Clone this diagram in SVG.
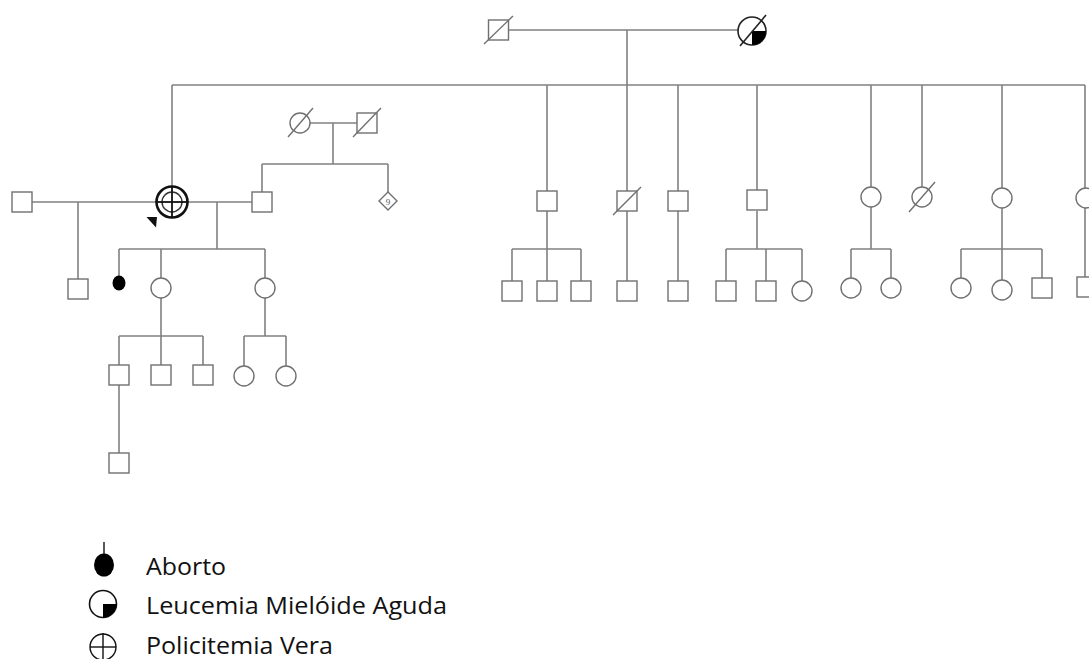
<svg xmlns="http://www.w3.org/2000/svg" width="1089" height="659" viewBox="0 0 1089 659">
  <style>
    .ln { stroke: #808080; stroke-width: 1.6; fill: none; }
    .m { fill: #fff; stroke: #707070; stroke-width: 1.4; }
    .f { fill: #fff; stroke: #707070; stroke-width: 1.4; }
    .dec { stroke: #707070; stroke-width: 1.4; }
    .blk { fill: #000; }
    .lg { font-family: "Open Sans", "Liberation Sans", sans-serif; font-size: 24px; fill: #111; }
  </style>
  <defs>
    <rect id="sq" x="-10" y="-10" width="20" height="20" class="m"/>
    <circle id="ci" r="10" class="f"/>
  </defs>
  <rect width="1089" height="659" fill="#fff"/>

  <!-- connectors -->
  <g id="connectors" class="ln">
    <!-- generation I -->
    <line x1="509" y1="30" x2="738" y2="30"/>
    <line x1="627" y1="30" x2="627" y2="85"/>
    <line x1="172" y1="85" x2="1085" y2="85"/>
    <line x1="172" y1="85" x2="172" y2="187"/>
    <line x1="547" y1="85" x2="547" y2="191"/>
    <line x1="627" y1="85" x2="627" y2="191"/>
    <line x1="678" y1="85" x2="678" y2="191"/>
    <line x1="757" y1="85" x2="757" y2="191"/>
    <line x1="871" y1="85" x2="871" y2="187"/>
    <line x1="922" y1="85" x2="922" y2="187"/>
    <line x1="1002" y1="85" x2="1002" y2="188"/>
    <line x1="1085" y1="85" x2="1085" y2="188"/>
    <!-- proband's marriages -->
    <line x1="32" y1="202" x2="156" y2="202"/>
    <line x1="78" y1="202" x2="78" y2="279"/>
    <line x1="188" y1="202" x2="252" y2="202"/>
    <line x1="217" y1="202" x2="217" y2="249"/>
    <line x1="119" y1="249" x2="265" y2="249"/>
    <line x1="119" y1="249" x2="119" y2="276"/>
    <line x1="161" y1="249" x2="161" y2="278"/>
    <line x1="265" y1="249" x2="265" y2="278"/>
    <!-- husband's parents -->
    <line x1="310" y1="123" x2="357" y2="123"/>
    <line x1="333" y1="123" x2="333" y2="164"/>
    <line x1="262" y1="164" x2="388" y2="164"/>
    <line x1="262" y1="164" x2="262" y2="192"/>
    <line x1="388" y1="164" x2="388" y2="192"/>
    <!-- grandchildren, left branch -->
    <line x1="161" y1="298" x2="161" y2="336"/>
    <line x1="119" y1="336" x2="203" y2="336"/>
    <line x1="119" y1="336" x2="119" y2="365"/>
    <line x1="161" y1="336" x2="161" y2="365"/>
    <line x1="203" y1="336" x2="203" y2="365"/>
    <line x1="265" y1="298" x2="265" y2="336"/>
    <line x1="244" y1="336" x2="286" y2="336"/>
    <line x1="244" y1="336" x2="244" y2="366"/>
    <line x1="286" y1="336" x2="286" y2="366"/>
    <line x1="119" y1="385" x2="119" y2="453"/>
    <!-- right branches -->
    <line x1="547" y1="211" x2="547" y2="281"/>
    <line x1="512" y1="249" x2="581" y2="249"/>
    <line x1="512" y1="249" x2="512" y2="281"/>
    <line x1="581" y1="249" x2="581" y2="281"/>
    <line x1="627" y1="211" x2="627" y2="281"/>
    <line x1="678" y1="211" x2="678" y2="281"/>
    <line x1="757" y1="211" x2="757" y2="249"/>
    <line x1="726" y1="249" x2="802" y2="249"/>
    <line x1="726" y1="249" x2="726" y2="281"/>
    <line x1="766" y1="249" x2="766" y2="281"/>
    <line x1="802" y1="249" x2="802" y2="281"/>
    <line x1="871" y1="207" x2="871" y2="249"/>
    <line x1="851" y1="249" x2="891" y2="249"/>
    <line x1="851" y1="249" x2="851" y2="278"/>
    <line x1="891" y1="249" x2="891" y2="278"/>
    <line x1="1002" y1="208" x2="1002" y2="280"/>
    <line x1="961" y1="249" x2="1042" y2="249"/>
    <line x1="961" y1="249" x2="961" y2="278"/>
    <line x1="1042" y1="249" x2="1042" y2="278"/>
    <line x1="1085" y1="208" x2="1085" y2="277"/>
  </g>

  <!-- generation I -->
  <g id="grandfather">
    <use href="#sq" x="498.5" y="30"/>
    <line x1="484" y1="44" x2="513" y2="16" class="dec"/>
  </g>
  <g id="grandmother">
    <circle cx="752" cy="31" r="14" fill="#fff" stroke="#222" stroke-width="1.6"/>
    <path d="M752,31 H766 A14,14 0 0 1 752,45 Z" class="blk"/>
    <line x1="740" y1="46" x2="766" y2="15" stroke="#222" stroke-width="1.6"/>
  </g>

  <!-- husband's parents -->
  <g id="husband-mother">
    <use href="#ci" x="300" y="123"/>
    <line x1="288" y1="137" x2="313" y2="108" class="dec"/>
  </g>
  <g id="husband-father">
    <use href="#sq" x="367" y="123"/>
    <line x1="353" y1="137" x2="381" y2="108" class="dec"/>
  </g>
  <g id="husband-siblings">
    <path d="M388,192 L397,201 L388,210 L379,201 Z" class="m"/>
    <text x="388" y="204.5" font-family="Liberation Serif, serif" font-size="9" text-anchor="middle" fill="#555">9</text>
  </g>

  <!-- proband and partners -->
  <g id="partner-1"><use href="#sq" x="22" y="202"/></g>
  <g id="proband">
    <circle cx="172" cy="202" r="15.5" fill="#fff" stroke="#111" stroke-width="2.6"/>
    <circle cx="172" cy="202" r="10" fill="none" stroke="#333" stroke-width="1.4"/>
    <line x1="156.5" y1="202" x2="187.5" y2="202" stroke="#111" stroke-width="1.8"/>
    <line x1="172" y1="186.5" x2="172" y2="217.5" stroke="#111" stroke-width="1.8"/>
    <polygon points="146.5,217 157,217 156,227.5" fill="#111"/>
  </g>
  <g id="partner-2"><use href="#sq" x="262" y="202"/></g>

  <!-- proband's children -->
  <g id="son-1"><use href="#sq" x="78" y="289"/></g>
  <g id="abortion"><ellipse cx="119" cy="283" rx="6.5" ry="7.5" class="blk"/></g>
  <g id="daughter-1"><use href="#ci" x="161" y="288"/></g>
  <g id="daughter-2"><use href="#ci" x="265" y="288"/></g>

  <!-- grandchildren, left -->
  <g id="gc-1"><use href="#sq" x="119" y="375"/></g>
  <g id="gc-2"><use href="#sq" x="161" y="375"/></g>
  <g id="gc-3"><use href="#sq" x="203" y="375"/></g>
  <g id="gc-4"><use href="#ci" x="244" y="376"/></g>
  <g id="gc-5"><use href="#ci" x="286" y="376"/></g>
  <g id="ggc-1"><use href="#sq" x="119" y="463"/></g>

  <!-- proband's siblings -->
  <g id="sib-1"><use href="#sq" x="547" y="201"/></g>
  <g id="sib-2">
    <use href="#sq" x="627" y="201"/>
    <line x1="613" y1="215" x2="641" y2="187" class="dec"/>
  </g>
  <g id="sib-3"><use href="#sq" x="678" y="201"/></g>
  <g id="sib-4"><use href="#sq" x="757" y="200"/></g>
  <g id="sib-5"><use href="#ci" x="871" y="197"/></g>
  <g id="sib-6">
    <use href="#ci" x="922" y="197"/>
    <line x1="909" y1="212" x2="935" y2="182" class="dec"/>
  </g>
  <g id="sib-7"><use href="#ci" x="1002" y="198"/></g>
  <g id="sib-8"><use href="#ci" x="1086" y="198"/></g>

  <!-- nieces and nephews -->
  <g id="nn-1"><use href="#sq" x="512" y="291"/></g>
  <g id="nn-2"><use href="#sq" x="547" y="291"/></g>
  <g id="nn-3"><use href="#sq" x="581" y="291"/></g>
  <g id="nn-4"><use href="#sq" x="627" y="291"/></g>
  <g id="nn-5"><use href="#sq" x="678" y="291"/></g>
  <g id="nn-6"><use href="#sq" x="726" y="291"/></g>
  <g id="nn-7"><use href="#sq" x="766" y="291"/></g>
  <g id="nn-8"><use href="#ci" x="802" y="291"/></g>
  <g id="nn-9"><use href="#ci" x="851" y="288"/></g>
  <g id="nn-10"><use href="#ci" x="891" y="288"/></g>
  <g id="nn-11"><use href="#ci" x="961" y="288"/></g>
  <g id="nn-12"><use href="#ci" x="1002" y="290"/></g>
  <g id="nn-13"><use href="#sq" x="1042" y="288"/></g>
  <g id="nn-14"><use href="#sq" x="1087" y="287"/></g>

  <!-- legend -->
  <g id="legend">
    <line x1="104" y1="542" x2="104" y2="555" stroke="#111" stroke-width="1.4"/>
    <ellipse cx="104" cy="565" rx="10" ry="11.5" class="blk"/>
    <text x="146" y="575" class="lg" textLength="80" lengthAdjust="spacingAndGlyphs">Aborto</text>

    <circle cx="103" cy="604" r="13.5" fill="#fff" stroke="#111" stroke-width="1.6"/>
    <path d="M103,604 H116.5 A13.5,13.5 0 0 1 103,617.5 Z" class="blk"/>
    <text x="146" y="614" class="lg" textLength="301" lengthAdjust="spacingAndGlyphs">Leucemia Mielóide Aguda</text>

    <circle cx="103" cy="647" r="13" fill="#fff" stroke="#111" stroke-width="1.4"/>
    <line x1="90" y1="647" x2="116" y2="647" stroke="#111" stroke-width="1.4"/>
    <line x1="103" y1="633" x2="103" y2="659" stroke="#111" stroke-width="1.4"/>
    <text x="146" y="654" class="lg" textLength="187" lengthAdjust="spacingAndGlyphs">Policitemia Vera</text>
  </g>
</svg>
